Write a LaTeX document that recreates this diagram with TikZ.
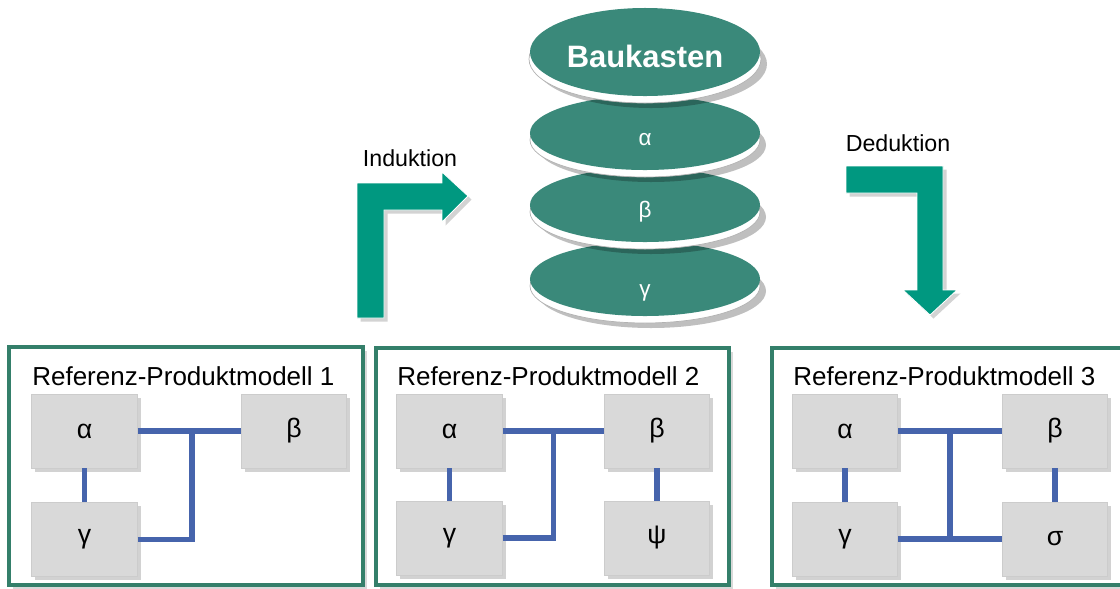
\documentclass[tikz,border=0pt]{standalone}
\usepackage{fontspec}
\setmainfont{Liberation Sans}
\usetikzlibrary{positioning,shapes.geometric,shadows,calc}
\definecolor{cteal}{RGB}{58,137,122}
\definecolor{cframe}{RGB}{52,127,106}
\definecolor{carrow}{RGB}{0,152,128}
\definecolor{cblue}{RGB}{70,100,172}
\definecolor{cgrey}{RGB}{217,217,217}

\begin{document}
\begin{tikzpicture}[x=0.025cm, y=-0.025cm,
    frame/.style={draw=cframe, line width=2.8pt, fill=white,
                  drop shadow={shadow xshift=2.5pt, shadow yshift=-2.5pt, opacity=.3}},
    mod/.style={draw=black!20, fill=cgrey, line width=0.6pt, inner sep=0pt,
                minimum width=2.63cm, minimum height=1.85cm,
                font=\fontsize{19}{19}\selectfont,
                drop shadow={shadow xshift=2.5pt, shadow yshift=-2.5pt, opacity=.35}},
    link/.style={draw=cblue, line width=3.6pt},
    title/.style={anchor=west, inner sep=0pt, font=\fontsize{18.5}{20}\selectfont},
    disc/.style={ellipse, fill=cteal, inner sep=0pt, minimum width=5.75cm, minimum height=1.85cm},
    disctext/.style={text=white, inner sep=0pt, font=\fontsize{16}{16}\selectfont},
    rim/.style={fill=white, draw=black!30, line width=0.5pt},
    bentarrow/.style={fill=carrow, draw=white, line width=0.6pt,
                      drop shadow={shadow xshift=2.5pt, shadow yshift=-2.5pt, opacity=.35}},
    lbl/.style={inner sep=0pt, font=\fontsize{16.5}{18}\selectfont},
  ]
  \useasboundingbox (0,0) rectangle (1120,588);
  \clip (0,0) rectangle (1120,588);

  % Baukasten stack, bottom disc first
  \fill[black, opacity=.25] (651,291) ellipse (115 and 37);
  \filldraw[rim] (645,286) ellipse (115 and 37);
  \node[disc] (dg) at (645,279) {};
  \node[disctext] (tg) at (645,293) {γ};

  \fill[black, opacity=.25] (651,217) ellipse (115 and 37);
  \filldraw[rim] (645,212) ellipse (115 and 37);
  \node[disc] (db) at (645,205) {};
  \node[disctext] (tb) at (645,212) {β};

  \fill[black, opacity=.25] (651,145) ellipse (115 and 37);
  \filldraw[rim] (645,140) ellipse (115 and 37);
  \node[disc] (da) at (645,133) {};
  \node[disctext] (ta) at (645,140) {α};

  \fill[black, opacity=.25] (651,64) ellipse (116 and 44);
  \filldraw[rim] (645,59) ellipse (116 and 44);
  \node[disc, minimum height=2.2cm] (dtop) at (645,52) {};
  \node[disctext, font=\fontsize{22}{22}\selectfont\bfseries] (ttop) at (645,56) {Baukasten};

  % Induktion
  \filldraw[bentarrow] (357,318) -- (357,183) -- (442,183) -- (442,172) -- (468,196)
    -- (442,222) -- (442,210) -- (384,210) -- (384,318) -- cycle;
  \node[lbl] (ind) at (410,158) {Induktion};

  % Deduktion
  \filldraw[bentarrow] (846,166) -- (943,166) -- (943,290) -- (957,290) -- (930,315)
    -- (903,290) -- (917,290) -- (917,193) -- (846,193) -- cycle;
  \node[lbl] (ded) at (898,143) {Deduktion};

  % Referenz-Produktmodell 1
  \draw[frame] (9,347) rectangle (363,585);
  \node[title] (t1) at (32,376) {Referenz-Produktmodell 1};
  \node[mod] (a1) at (84.5,431) {α};
  \node[mod] (c1) at (84.5,539.5) {γ};
  \node[mod] (b1) at (294,431) {β};
  \coordinate (j1) at (192,431);
  \draw[link] (a1) -- (c1);
  \draw[link] (a1) -- (b1);
  \draw[link] (c1.east) -| (j1);

  % Referenz-Produktmodell 2
  \draw[frame] (376,348) rectangle (729,585);
  \node[title] (t2) at (397,376) {Referenz-Produktmodell 2};
  \node[mod] (a2) at (449.5,431) {α};
  \node[mod] (c2) at (449.5,538) {γ};
  \node[mod] (b2) at (657,431) {β};
  \node[mod] (p2) at (657,538) {ψ};
  \draw[link] (a2) -- (c2);
  \draw[link] (a2) -- (b2);
  \draw[link] (b2) -- (p2);
  \draw[link] (c2.east) -| ($(a2.east)!.5!(b2.west)$);

  % Referenz-Produktmodell 3
  \draw[frame] (772,348) rectangle (1140,585);
  \node[title] (t3) at (793,376) {Referenz-Produktmodell 3};
  \node[mod] (a3) at (845,431) {α};
  \node[mod] (c3) at (845,539) {γ};
  \node[mod] (b3) at (1055,431) {β};
  \node[mod] (s3) at (1055,539) {σ};
  \draw[link] (a3) -- (c3);
  \draw[link] (b3) -- (s3);
  \draw[link] (a3) -- (b3);
  \draw[link] (c3) -- (s3);
  \draw[link] ($(a3.east)!.5!(b3.west)$) -- ($(c3.east)!.5!(s3.west)$);
\end{tikzpicture}
\end{document}
